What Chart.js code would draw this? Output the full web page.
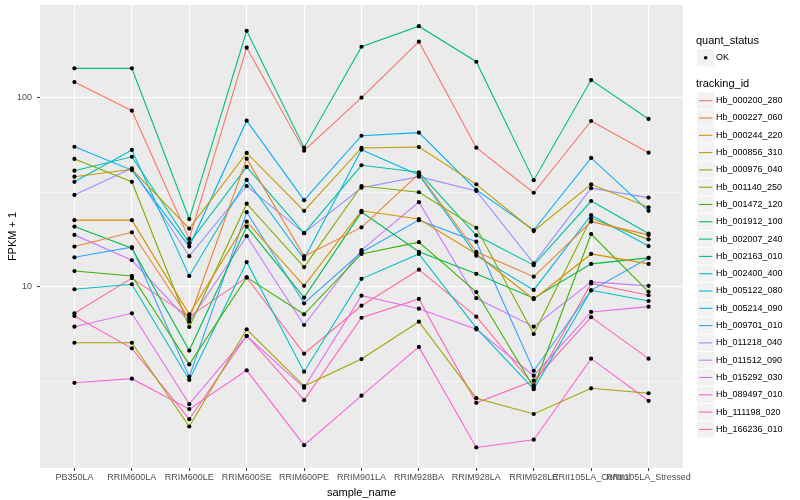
<!DOCTYPE html>
<html>
<head>
<meta charset="utf-8">
<script src="https://cdn.jsdelivr.net/npm/chart.js@4.4.1/dist/chart.umd.min.js"></script>
<style>
  html, body { margin: 0; padding: 0; background: #fff; }
  canvas { display: block; }
</style>
</head>
<body>
<canvas id="chart" width="800" height="500"></canvas>
<script>
const sampleNames = ['PB350LA', 'RRIM600LA', 'RRIM600LE', 'RRIM600SE', 'RRIM600PE', 'RRIM901LA',
    'RRIM928BA', 'RRIM928LA', 'RRIM928LE', 'RRII105LA_Control', 'RRII105LA_Stressed'];

const trackingIds = ['Hb_000200_280', 'Hb_000227_060', 'Hb_000244_220', 'Hb_000856_310', 'Hb_000976_040',
    'Hb_001140_250', 'Hb_001472_120', 'Hb_001912_100', 'Hb_002007_240', 'Hb_002163_010',
    'Hb_002400_400', 'Hb_005122_080', 'Hb_005214_090', 'Hb_009701_010', 'Hb_011218_040',
    'Hb_011512_090', 'Hb_015292_030', 'Hb_089497_010', 'Hb_111198_020', 'Hb_166236_010'];

// ggplot default hue palette, 20 levels
const seriesColors = ['#F8766D', '#EA8331', '#D89000', '#C09B00', '#A3A500', '#7CAE00', '#39B600', '#00BB4E',
    '#00BF7D', '#00C1A3', '#00BFC4', '#00BAE0', '#00B0F6', '#35A2FF', '#9590FF', '#C77CFF',
    '#E76BF3', '#FA62DB', '#FF62BC', '#FF6C91'];

// FPKM + 1, one value per sample
const hb_000200_280 = [121, 85.4, 17.9, 184, 52.4, 100, 198, 54.4, 31.4, 75.3, 51.2];
const hb_000227_060 = [16.3, 19.4, 6.75, 47.6, 14.5, 20.6, 39.6, 15.3, 11.3, 22.1, 18.8];
const hb_000244_220 = [22.5, 22.5, 7.14, 22.1, 10.1, 25.2, 22.8, 14.9, 8.58, 14.9, 13.2];
const hb_000856_310 = [38.2, 41.8, 20.3, 51.0, 25.2, 54.2, 54.8, 34.8, 19.7, 34.8, 26.3];
const hb_000976_040 = [5.05, 5.05, 1.82, 5.95, 2.98, 4.14, 6.53, 2.57, 2.12, 2.90, 2.73];
const hb_001140_250 = [47.4, 35.9, 6.12, 27.5, 12.7, 34.1, 31.6, 20.5, 5.62, 23.0, 17.8];
const hb_001472_120 = [12.1, 11.4, 3.88, 11.2, 7.14, 14.9, 17.2, 9.37, 2.94, 19.0, 9.4];
const hb_001912_100 = [20.8, 16.0, 4.59, 20.8, 8.75, 24.8, 15.3, 11.7, 8.69, 13.2, 14.2];
const hb_002007_240 = [143, 143, 22.8, 226, 54.4, 186, 239, 155, 36.6, 124, 77.2];
const hb_002163_010 = [41.1, 48.7, 17.0, 43.0, 19.2, 43.9, 40.3, 18.7, 13.0, 28.4, 19.1];
const hb_002400_400 = [9.69, 10.3, 3.21, 13.5, 3.55, 11.0, 14.9, 6.03, 2.87, 9.57, 8.40];
const hb_005122_080 = [35.9, 52.9, 11.4, 36.7, 14.0, 53.1, 39.0, 14.6, 9.61, 23.9, 16.4];
const hb_005214_090 = [55.0, 41.4, 16.3, 75.6, 28.7, 62.9, 65.3, 32.5, 19.95, 48.0, 25.2];
const hb_009701_010 = [14.3, 16.2, 3.34, 24.8, 8.17, 15.2, 22.5, 17.3, 3.59, 9.57, 14.2];
const hb_011218_040 = [30.6, 42.3, 14.5, 34.1, 19.2, 33.4, 38.2, 32.1, 13.3, 33.2, 29.6];
const hb_011512_090 = [18.8, 13.8, 6.53, 18.5, 6.27, 15.6, 28.0, 8.69, 6.14, 10.6, 10.1];
const hb_015292_030 = [6.14, 7.23, 2.39, 5.48, 2.92, 8.96, 7.65, 5.95, 3.38, 7.35, 7.84];
const hb_089497_010 = [3.10, 3.26, 2.25, 3.61, 1.45, 2.65, 4.80, 1.41, 1.55, 4.16, 2.49];
const hb_111198_020 = [7.00, 4.72, 1.99, 5.50, 2.51, 6.85, 8.61, 2.43, 3.18, 6.90, 4.16];
const hb_166236_010 = [7.23, 11.1, 6.94, 11.2, 4.42, 7.93, 12.3, 6.94, 3.01, 10.4, 9.01];

const seriesValues = [hb_000200_280, hb_000227_060, hb_000244_220, hb_000856_310, hb_000976_040,
    hb_001140_250, hb_001472_120, hb_001912_100, hb_002007_240, hb_002163_010,
    hb_002400_400, hb_005122_080, hb_005214_090, hb_009701_010, hb_011218_040,
    hb_011512_090, hb_015292_030, hb_089497_010, hb_111198_020, hb_166236_010];

const yMajorTicks = [10, 100];
const yMinorTicks = [3.1623, 31.623];

const FONT = '"Liberation Sans", Arial, sans-serif';

// Grey panel like ggplot
const panelBackground = {
    id: 'panelBackground',
    beforeDraw: (chart) => {
        const ctx = chart.ctx;
        const a = chart.chartArea;
        ctx.save();
        ctx.fillStyle = '#ffffff';
        ctx.fillRect(0, 0, chart.width, chart.height);
        ctx.fillStyle = '#EBEBEB';
        ctx.fillRect(a.left, a.top, a.right - a.left, a.bottom - a.top);
        ctx.restore();
    }
};

// Hand drawn legend on the right
const sideLegend = {
    id: 'sideLegend',
    afterDraw: (chart) => {
        const ctx = chart.ctx;
        const keyX = 697, keySize = 17.3, textX = 716;
        ctx.save();
        ctx.textBaseline = 'middle';
        ctx.textAlign = 'left';

        ctx.fillStyle = '#000';
        ctx.font = '11px ' + FONT;
        ctx.fillText('quant_status', 696, 40.7);

        ctx.fillStyle = '#F2F2F2';
        ctx.fillRect(keyX, 57.7 - keySize / 2, keySize, keySize);
        ctx.fillStyle = '#000';
        ctx.beginPath();
        ctx.arc(keyX + keySize / 2, 57.7, 1.8, 0, Math.PI * 2);
        ctx.fill();
        ctx.font = '9px ' + FONT;
        ctx.fillText('OK', textX, 57.7);

        ctx.font = '11px ' + FONT;
        ctx.fillText('tracking_id', 696, 84.3);

        ctx.font = '9px ' + FONT;
        trackingIds.forEach((id, i) => {
            const cy = 100.7 + i * keySize;
            ctx.fillStyle = '#F2F2F2';
            ctx.fillRect(keyX, cy - keySize / 2 + 0.5, keySize, keySize - 1);
            ctx.strokeStyle = seriesColors[i];
            ctx.lineWidth = 1.1;
            ctx.beginPath();
            ctx.moveTo(keyX + 2, cy);
            ctx.lineTo(keyX + keySize - 2, cy);
            ctx.stroke();
            ctx.fillStyle = '#000';
            ctx.fillText(id, textX, cy);
        });
        ctx.restore();
    }
};

const lineDatasets = seriesValues.map((vals, i) => ({
    label: trackingIds[i],
    data: vals.map((v, j) => ({ x: j, y: v })),
    borderColor: seriesColors[i],
    borderWidth: 1.1,
    pointRadius: 0,
    fill: false,
    tension: 0,
    order: 1
}));

// all points on top of the lines, as in ggplot
const pointDataset = {
    label: 'OK',
    data: seriesValues.flatMap(vals => vals.map((v, j) => ({ x: j, y: v }))),
    showLine: false,
    pointRadius: 2.1,
    pointBackgroundColor: '#000',
    pointBorderColor: '#000',
    pointBorderWidth: 0,
    order: -1
};

const canvas = document.getElementById('chart');
const myChart = new Chart(canvas, {
    type: 'line',
    data: {
        datasets: [...lineDatasets, pointDataset]
    },
    options: {
        responsive: false,
        animation: false,
        layout: {
            padding: { top: 5, right: 117, bottom: 0, left: 0 }
        },
        plugins: {
            legend: { display: false },
            tooltip: { enabled: false }
        },
        scales: {
            x: {
                type: 'linear',
                min: -0.6,
                max: sampleNames.length - 1 + 0.6,
                afterBuildTicks: (scale) => {
                    scale.ticks = sampleNames.map((n, i) => ({ value: i }));
                },
                afterFit: (scale) => { scale.height = 32; },
                border: { display: false },
                grid: {
                    color: '#ffffff',
                    lineWidth: 1.1,
                    tickColor: '#333333',
                    tickLength: 3,
                    tickWidth: 1
                },
                ticks: {
                    autoSkip: false,
                    maxRotation: 0,
                    minRotation: 0,
                    padding: 1,
                    color: '#4D4D4D',
                    font: { family: FONT, size: 9 },
                    callback: (v) => sampleNames[v] !== undefined ? sampleNames[v] : ''
                },
                title: {
                    display: true,
                    text: 'sample_name',
                    color: '#000',
                    font: { family: FONT, size: 11 },
                    padding: { top: 5, bottom: 0 }
                }
            },
            y: {
                type: 'logarithmic',
                min: 1.098,
                max: 309.4,
                afterBuildTicks: (scale) => {
                    scale.ticks = [...yMinorTicks, ...yMajorTicks]
                        .sort((a, b) => a - b)
                        .map(v => ({ value: v }));
                },
                afterFit: (scale) => {
                    scale.width = 40;
                    scale.paddingTop = 0;
                    scale.paddingBottom = 0;
                },
                border: { display: false },
                grid: {
                    color: '#ffffff',
                    lineWidth: (ctx) => yMajorTicks.includes(ctx.tick.value) ? 1.1 : 0.55,
                    tickColor: (ctx) => yMajorTicks.includes(ctx.tick.value) ? '#333333' : 'rgba(0,0,0,0)',
                    tickLength: 3,
                    tickWidth: 1
                },
                ticks: {
                    padding: 5,
                    color: '#4D4D4D',
                    font: { family: FONT, size: 9 },
                    callback: (v) => yMajorTicks.includes(v) ? String(v) : ''
                },
                title: {
                    display: true,
                    text: 'FPKM + 1',
                    color: '#000',
                    font: { family: FONT, size: 11 },
                    padding: { top: 6, bottom: 0 }
                }
            }
        }
    },
    plugins: [panelBackground, sideLegend]
});
</script>
</body>
</html>
